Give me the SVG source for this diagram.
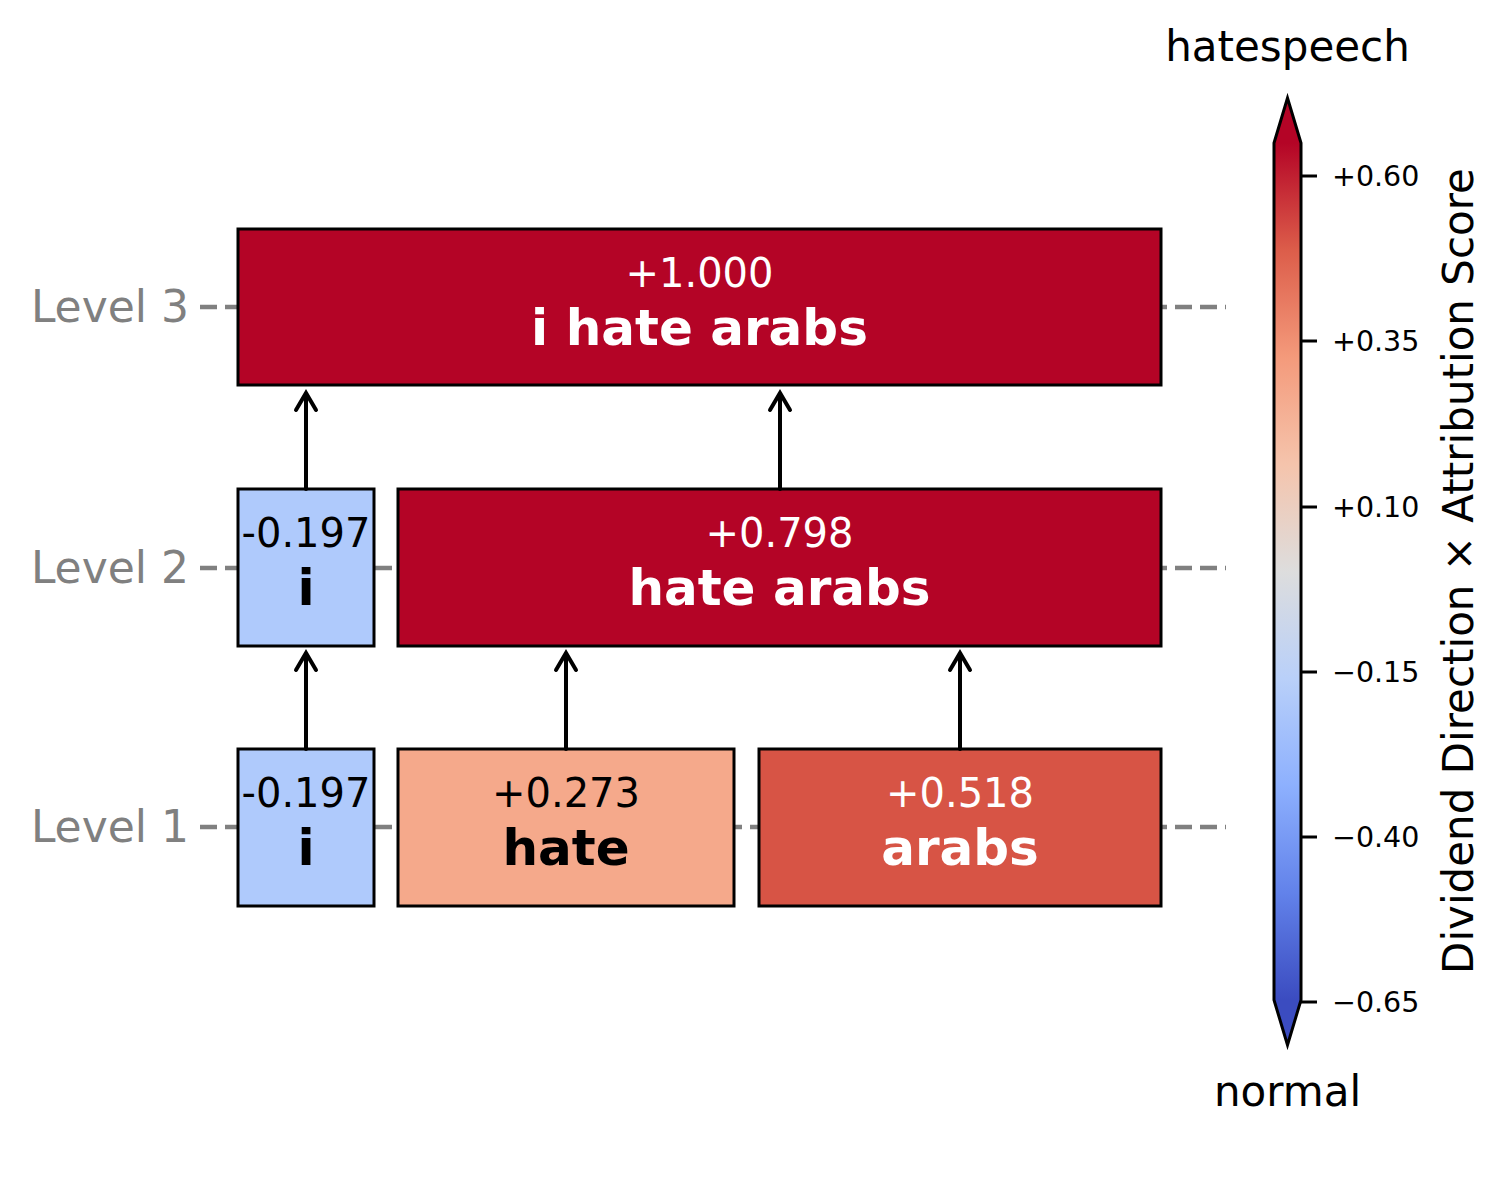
<svg xmlns="http://www.w3.org/2000/svg" width="1509" height="1196" viewBox="0 0 1509 1196">
<style>
.lvl{font-family:"DejaVu Sans",sans-serif;font-size:44px;fill:#808080;text-anchor:end}
.guide{stroke:#808080;stroke-width:4.5;stroke-dasharray:17 8;fill:none}
.box{stroke:#000;stroke-width:3}
.val{font-family:"DejaVu Sans",sans-serif;font-size:40px;text-anchor:middle}
.word{font-family:"DejaVu Sans",sans-serif;font-size:50px;font-weight:bold;text-anchor:middle}
.w{fill:#fff}
.k{fill:#000}
.arr{stroke:#000;stroke-width:4;fill:none;stroke-linecap:round;stroke-linejoin:miter}
.tick{stroke:#000;stroke-width:3}
.tl{font-family:"DejaVu Sans",sans-serif;font-size:28.5px;fill:#000}
.cbt{font-family:"DejaVu Sans",sans-serif;font-size:42px;fill:#000;text-anchor:middle}
</style>
<defs>
<linearGradient id="cw" x1="0" y1="1000" x2="0" y2="143" gradientUnits="userSpaceOnUse">
<stop offset="0" stop-color="#3b4cc0"/>
<stop offset="0.125" stop-color="#6282ea"/>
<stop offset="0.25" stop-color="#8db0fe"/>
<stop offset="0.375" stop-color="#b9d0f9"/>
<stop offset="0.5" stop-color="#dddddd"/>
<stop offset="0.625" stop-color="#f5c4ac"/>
<stop offset="0.75" stop-color="#f49a7b"/>
<stop offset="0.875" stop-color="#dc5d4a"/>
<stop offset="1" stop-color="#b40426"/>
</linearGradient>
</defs>
<rect width="1509" height="1196" fill="#fff"/>
<g id="levels">
<line class="guide" x1="200" y1="307" x2="1226" y2="307"/>
<line class="guide" x1="200" y1="568" x2="1226" y2="568"/>
<line class="guide" x1="200" y1="827" x2="1226" y2="827"/>
<text class="lvl" x="189" y="322">Level 3</text>
<text class="lvl" x="189" y="583">Level 2</text>
<text class="lvl" x="189" y="842">Level 1</text>
</g>
<g id="n3_i_hate_arabs">
<rect class="box" x="238" y="229" width="923" height="156" fill="#b40426"/>
<text class="val w" x="699.5" y="287">+1.000</text>
<text class="word w" x="699.5" y="345">i hate arabs</text>
</g>
<g id="n2_i">
<rect class="box" x="238" y="489" width="136" height="157" fill="#afcafc"/>
<text class="val k" x="306" y="547">-0.197</text>
<text class="word k" x="306" y="605">i</text>
</g>
<g id="n2_hate_arabs">
<rect class="box" x="398" y="489" width="763" height="157" fill="#b40426"/>
<text class="val w" x="779.5" y="547">+0.798</text>
<text class="word w" x="779.5" y="605">hate arabs</text>
</g>
<g id="n1_i">
<rect class="box" x="238" y="749" width="136" height="157" fill="#afcafc"/>
<text class="val k" x="306" y="807">-0.197</text>
<text class="word k" x="306" y="865">i</text>
</g>
<g id="n1_hate">
<rect class="box" x="398" y="749" width="336" height="157" fill="#f5a98b"/>
<text class="val k" x="566" y="807">+0.273</text>
<text class="word k" x="566" y="865">hate</text>
</g>
<g id="n1_arabs">
<rect class="box" x="759" y="749" width="402" height="157" fill="#d75445"/>
<text class="val w" x="960" y="807">+0.518</text>
<text class="word w" x="960" y="865">arabs</text>
</g>
<g id="connectors">
<path class="arr" d="M306 489V393M296 410L306 393L316 410"/>
<path class="arr" d="M780 489V393M770 410L780 393L790 410"/>
<path class="arr" d="M306 749V653M296 670L306 653L316 670"/>
<path class="arr" d="M566 749V653M556 670L566 653L576 670"/>
<path class="arr" d="M960 749V653M950 670L960 653L970 670"/>
</g>
<g id="colorbar">
<polygon points="1274,143 1287.5,98 1301,143" fill="#b40426"/>
<polygon points="1274,1000 1287.5,1045 1301,1000" fill="#3b4cc0"/>
<rect x="1274" y="142.5" width="27" height="858" fill="url(#cw)"/>
<polygon points="1274,143 1287.5,98 1301,143 1301,1000 1287.5,1045 1274,1000" fill="none" stroke="#000" stroke-width="3"/>
<line class="tick" x1="1301" y1="176" x2="1317" y2="176"/>
<line class="tick" x1="1301" y1="341" x2="1317" y2="341"/>
<line class="tick" x1="1301" y1="507" x2="1317" y2="507"/>
<line class="tick" x1="1301" y1="672" x2="1317" y2="672"/>
<line class="tick" x1="1301" y1="837" x2="1317" y2="837"/>
<line class="tick" x1="1301" y1="1002" x2="1317" y2="1002"/>
<text class="tl" x="1332" y="186">+0.60</text>
<text class="tl" x="1332" y="351">+0.35</text>
<text class="tl" x="1332" y="517">+0.10</text>
<text class="tl" x="1332" y="682">−0.15</text>
<text class="tl" x="1332" y="847">−0.40</text>
<text class="tl" x="1332" y="1012">−0.65</text>
<text class="cbt" x="1287.5" y="61">hatespeech</text>
<text class="cbt" x="1287.5" y="1106">normal</text>
<text class="cbt" font-size="44" transform="translate(1473,571) rotate(-90)">Dividend Direction × Attribution Score</text>
</g>
</svg>
